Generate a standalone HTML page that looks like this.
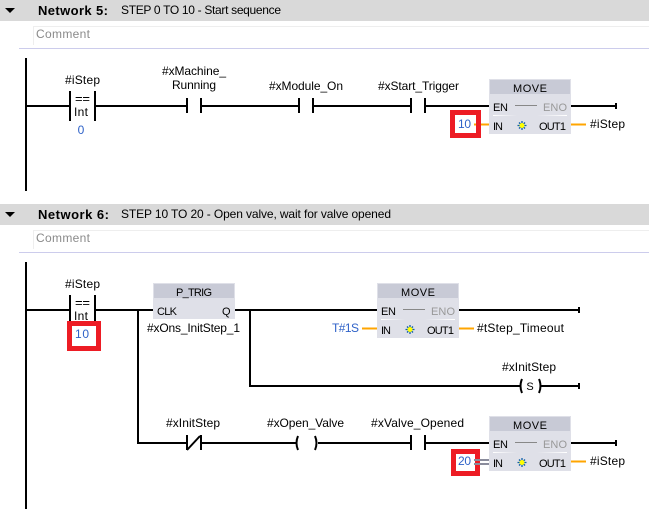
<!DOCTYPE html>
<html><head><meta charset="utf-8"><style>
html,body{margin:0;padding:0;background:#fff}
svg{display:block}
text{font-family:"Liberation Sans",sans-serif;font-size:12px;fill:#000}
.s{font-size:11px}
.l{stroke:#000;stroke-width:2;fill:none}
.o{stroke:#ffa500;stroke-width:2}
.b{fill:#2f62c8}
.g{fill:#999}
</style></head><body>
<svg width="649" height="515" viewBox="0 0 649 515" xmlns="http://www.w3.org/2000/svg">
<defs>
<linearGradient id="f1" x1="0" x2="1" y1="0" y2="0"><stop offset="0" stop-color="#fff"/><stop offset="1" stop-color="#fff" stop-opacity="0"/></linearGradient>
<linearGradient id="f2" x1="0" x2="1" y1="0" y2="0"><stop offset="0" stop-color="#fff" stop-opacity="0"/><stop offset="1" stop-color="#fff"/></linearGradient>
<g id="move">
<rect x="0" y="0" width="82" height="55" fill="#dfe0e8"/>
<rect x="1" y="1" width="80" height="14" fill="#c8cad6"/>
<text x="24" y="13" class="s" textLength="34">MOVE</text>
<text x="4" y="32" class="s" textLength="15">EN</text>
<rect x="26" y="26" width="22" height="1" fill="#888"/>
<text x="54" y="32" class="s g" textLength="24">ENO</text>
<rect x="4" y="36" width="24" height="1" fill="url(#f1)"/>
<rect x="48" y="36" width="30" height="1" fill="url(#f2)"/>
<text x="4" y="51" class="s" textLength="10">IN</text>
<text x="50" y="51" class="s" textLength="27">OUT1</text>
<path d="M33 42v9M28.500 46.500h9M30 43.500l6 6M36 43.500l-6 6" stroke="#0f5fa8" stroke-width="1.300"/>
<circle cx="33" cy="46.500" r="2.500" fill="#ffff00"/>
</g>
<g id="cmp">
<path class="l" d="M70 0v30M95 0v30"/>
<text x="75" y="12" style="font-size:13px" textLength="15">==</text>
<text x="74" y="25" textLength="14">Int</text>
</g>
</defs>

<!-- Network 5 -->
<rect x="0" y="0" width="649" height="21" fill="#d9d9d9"/>
<path d="M5 8h10l-5 5z" fill="#000"/>
<text x="38" y="15" style="font-size:13px;font-weight:bold" textLength="70">Network 5:</text>
<text x="121" y="14" textLength="160">STEP 0 TO 10 - Start sequence</text>
<rect x="33" y="26" width="616" height="1" fill="#eee"/>
<rect x="33" y="26" width="1" height="19" fill="#eee"/>
<text x="36" y="38" style="fill:#8a8a8a" textLength="54">Comment</text>
<rect x="19" y="48" width="630" height="1" fill="#ccccec"/>

<path class="l" d="M26 58v133"/>
<path class="l" d="M26 106H70M95 106H187M201 106H299M313 106H411M425 106H489M571 106H616"/>
<path d="M616 103v6" stroke="#000" stroke-width="2"/>
<text x="65" y="84" textLength="35">#iStep</text>
<g transform="translate(0,91)"><use href="#cmp"/></g>
<text x="81" y="134" text-anchor="middle" class="b">0</text>
<text x="162" y="75" textLength="64">#xMachine_</text>
<text x="172" y="89" textLength="44">Running</text>
<path class="l" d="M187 98v15M201 98v15M299 98v15M313 98v15M411 98v15M425 98v15"/>
<text x="269" y="90" textLength="74">#xModule_On</text>
<text x="378" y="90" textLength="81">#xStart_Trigger</text>
<g transform="translate(489,79)"><use href="#move"/></g>
<rect x="450" y="110" width="31" height="28" fill="#ed1c24"/>
<rect x="455" y="115" width="21" height="18" fill="#fff"/>
<text x="458" y="128" class="b" textLength="13">10</text>
<path class="o" d="M474 124.500h2M481 124.500h8M571 124.500h15"/>
<text x="590" y="128" textLength="35">#iStep</text>

<!-- Network 6 -->
<rect x="0" y="204" width="649" height="21" fill="#d9d9d9"/>
<path d="M5 212h10l-5 5z" fill="#000"/>
<text x="38" y="219" style="font-size:13px;font-weight:bold" textLength="71">Network 6:</text>
<text x="121" y="218" textLength="270">STEP 10 TO 20 - Open valve, wait for valve opened</text>
<rect x="33" y="230" width="616" height="1" fill="#eee"/>
<rect x="33" y="230" width="1" height="19" fill="#eee"/>
<text x="36" y="242" style="fill:#8a8a8a" textLength="54">Comment</text>
<rect x="19" y="252" width="630" height="1" fill="#ccccec"/>

<path class="l" d="M26 262v247"/>
<path class="l" d="M26 310H70M95 310H153M235 310H377M459 310H579"/>
<path d="M579 307v6" stroke="#000" stroke-width="2"/>
<path class="l" d="M138 310V443H187M201 443H296M318 443H411M425 443H489M571 443H616"/>
<path d="M616 440v6" stroke="#000" stroke-width="2"/>
<path class="l" d="M250 310V386H521M541 386H579"/>
<path d="M579 383v6" stroke="#000" stroke-width="2"/>

<text x="65" y="288" textLength="35">#iStep</text>
<g transform="translate(0,295)"><use href="#cmp"/></g>
<rect x="67" y="321" width="34" height="30" fill="#ed1c24"/>
<rect x="72" y="326" width="24" height="20" fill="#fff"/>
<text x="75" y="338" class="b" textLength="14">10</text>

<rect x="153" y="283" width="82" height="36" fill="#dfe0e8"/>
<rect x="154" y="284" width="80" height="14" fill="#c8cad6"/>
<text x="176" y="296" class="s" textLength="36">P_TRIG</text>
<text x="157" y="315" class="s" textLength="20">CLK</text>
<text x="222" y="315" class="s" textLength="9">Q</text>
<text x="147" y="332" textLength="93">#xOns_InitStep_1</text>

<g transform="translate(377,283)"><use href="#move"/></g>
<text x="332" y="332" class="b" textLength="27">T#1S</text>
<path class="o" d="M362 328.500h15M459 328.500h15"/>
<text x="477" y="332" textLength="87">#tStep_Timeout</text>

<text x="502" y="371" textLength="54">#xInitStep</text>
<path d="M522 379q-3 7 0 14M539 379q3 7 0 14" fill="none" stroke="#000" stroke-width="2"/>
<text x="530" y="390" text-anchor="middle" class="s">S</text>

<text x="166" y="427" textLength="54">#xInitStep</text>
<path class="l" d="M187 435v15M201 435v15"/>
<path d="M187 450L200 436" stroke="#000" stroke-width="2"/>
<text x="267" y="427" textLength="77">#xOpen_Valve</text>
<path d="M298 436q-3 7 0 14M315 436q3 7 0 14" fill="none" stroke="#000" stroke-width="2"/>
<text x="371" y="427" textLength="93">#xValve_Opened</text>
<path class="l" d="M411 435v15M425 435v15"/>
<g transform="translate(489,416)"><use href="#move"/></g>
<rect x="451" y="449" width="29" height="27" fill="#ed1c24"/>
<rect x="456" y="454" width="19" height="17" fill="#fff"/>
<text x="458" y="465" class="b" textLength="13">20</text>
<path d="M474 460h15M474 464h15" stroke="#8a8c9c" stroke-width="2"/>
<path class="o" d="M571 461.500h15"/>
<text x="590" y="465" textLength="35">#iStep</text>
</svg>
</body></html>
